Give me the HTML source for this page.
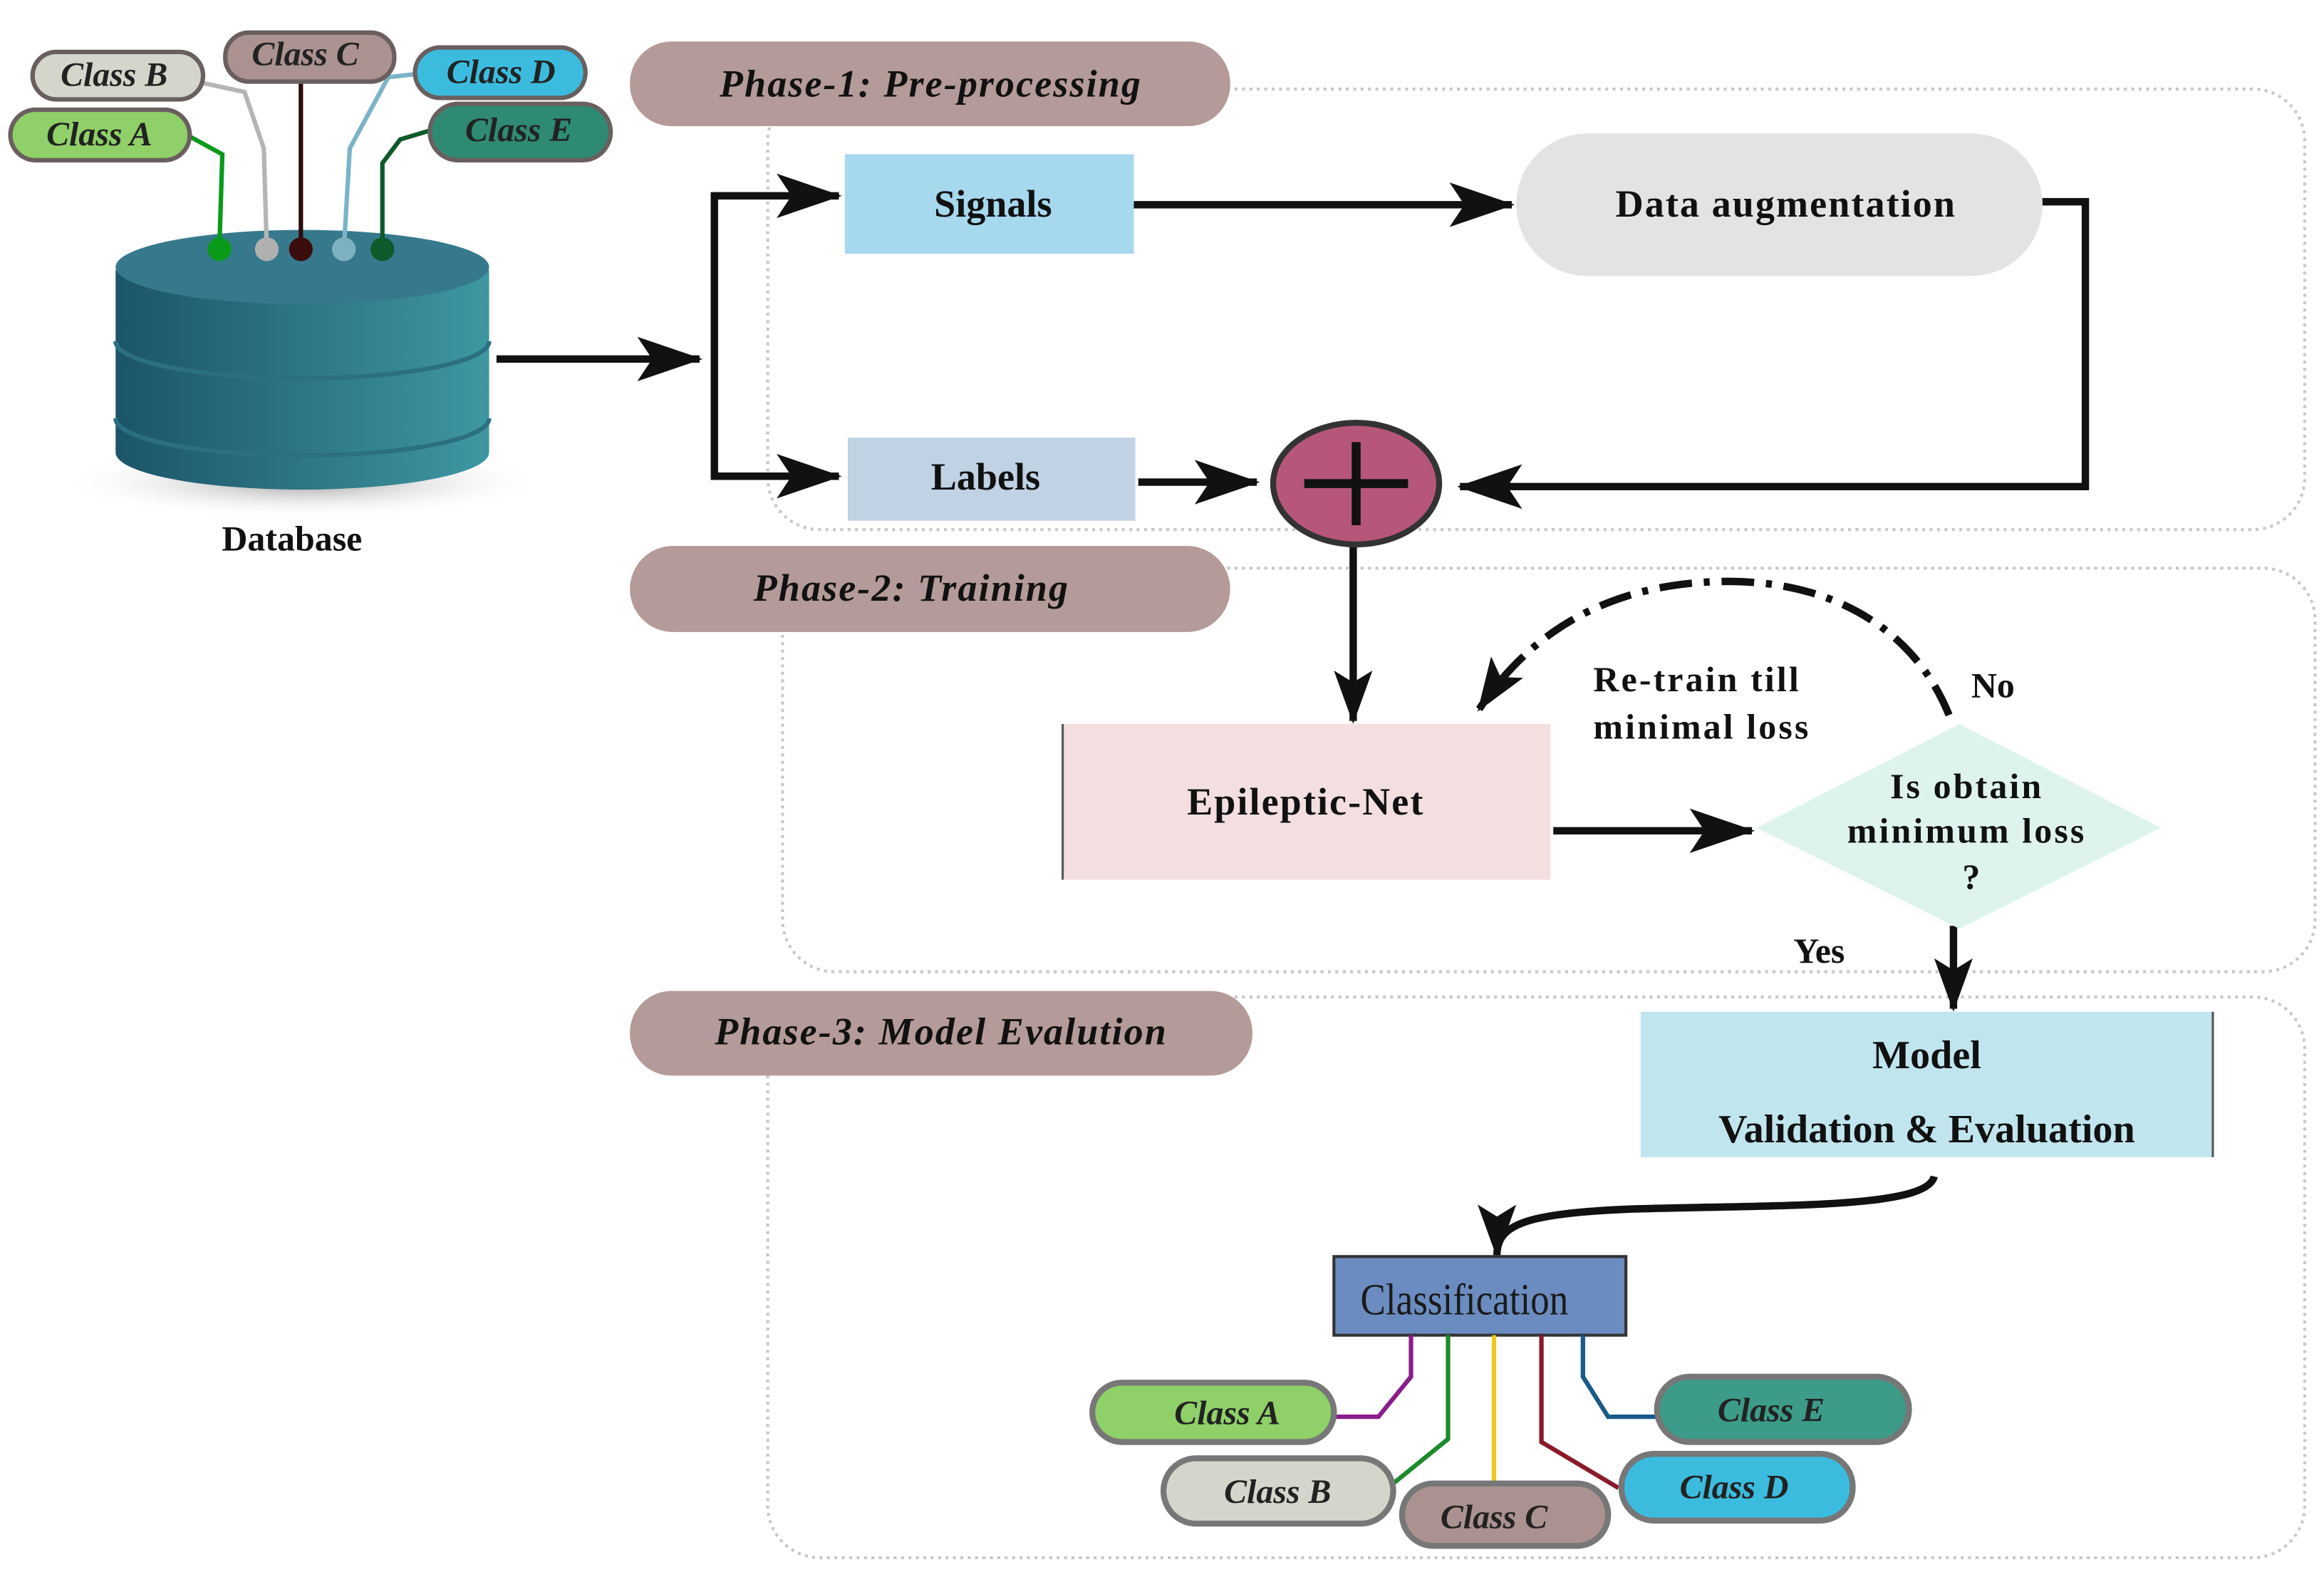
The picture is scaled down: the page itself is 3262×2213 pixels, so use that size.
<!DOCTYPE html>
<html><head><meta charset="utf-8"><style>
html,body{margin:0;padding:0;background:#fff;}
svg{display:block;}
text{font-family:"Liberation Serif",serif;}
.pill{font-weight:bold;font-style:italic;font-size:23px;fill:#222;}
.ph{font-weight:bold;font-style:italic;font-size:26px;fill:#111;letter-spacing:1px;}
.b{font-weight:bold;fill:#111;}
</style></head><body>
<svg width="3262" height="2213" viewBox="0 0 1568 1063" preserveAspectRatio="none" xmlns="http://www.w3.org/2000/svg">
<defs>
<linearGradient id="cyl" x1="0" x2="1" y1="0" y2="0">
<stop offset="0" stop-color="#1c5468"/><stop offset="1" stop-color="#3e97a2"/></linearGradient>
<radialGradient id="sh"><stop offset="0" stop-color="#888" stop-opacity=".8"/><stop offset="1" stop-color="#fff" stop-opacity="0"/></radialGradient>
<marker id="ah" viewBox="0 0 44 30" refX="42" refY="15" markerWidth="44" markerHeight="30" orient="auto" markerUnits="userSpaceOnUse">
<path d="M0,0 L44,15 L0,30 L10,15 Z" fill="#111"/></marker>
<marker id="ah2" viewBox="0 0 36 26" refX="34" refY="13" markerWidth="36" markerHeight="26" orient="auto" markerUnits="userSpaceOnUse">
<path d="M0,0 L36,13 L0,26 L8,13 Z" fill="#111"/></marker>
</defs>
<!-- phase boxes -->
<g fill="none" stroke="#c8c8c8" stroke-width="2" stroke-dasharray="2,3">
<rect x="518" y="60" width="1037" height="297" rx="35"/>
<rect x="528" y="383" width="1034" height="272" rx="35"/>
<rect x="518" y="672" width="1037" height="378" rx="35"/>
</g>
<!-- phase pills -->
<rect x="425" y="28" width="405" height="57" rx="28" fill="#b49a98"/>
<text x="628" y="65" text-anchor="middle" class="ph">Phase-1: Pre-processing</text>
<rect x="425" y="368" width="405" height="58" rx="29" fill="#b49a98"/>
<text x="615" y="405" text-anchor="middle" class="ph">Phase-2: Training</text>
<rect x="425" y="668" width="420" height="57" rx="28" fill="#b49a98"/>
<text x="635" y="704" text-anchor="middle" class="ph">Phase-3: Model Evalution</text>

<!-- database -->
<ellipse cx="204" cy="325" rx="165" ry="25" fill="url(#sh)"/>
<path d="M78,182 L78,305 A126,25 0 0 0 330,305 L330,182 Z" fill="url(#cyl)"/>
<path d="M78,230 A126,25 0 0 0 330,230 M78,282 A126,25 0 0 0 330,282" fill="none" stroke="#2c6f80" stroke-width="3"/>
<ellipse cx="204" cy="180" rx="126" ry="25" fill="#37798c"/>
<g fill="none" stroke-width="3">
<polyline points="128,92 150,104 148,168" stroke="#0a9a1a"/>
<polyline points="137,56 165,62 178,100 180,168" stroke="#b5b5b5"/>
<polyline points="203,55 203,168" stroke="#2a0c0c"/>
<polyline points="280,50 262,52 236,100 232,168" stroke="#7bb4c8"/>
<polyline points="290,88 270,94 258,110 258,168" stroke="#0d5a2a"/>
</g>
<circle cx="148" cy="168" r="8" fill="#0a9a1a"/>
<circle cx="180" cy="168" r="8" fill="#b0b0b0"/>
<circle cx="203" cy="168" r="8" fill="#3a0c0c"/>
<circle cx="232" cy="168" r="8" fill="#7db0c0"/>
<circle cx="258" cy="168" r="8" fill="#0d5a2a"/>
<g stroke="#6a5f5f" stroke-width="3">
<rect x="22" y="35" width="115" height="32" rx="16" fill="#d4d6cc"/>
<rect x="152" y="22" width="114" height="33" rx="16" fill="#ab9290"/>
<rect x="7" y="74" width="121" height="34" rx="17" fill="#8fd068"/>
<rect x="280" y="32" width="115" height="34" rx="17" fill="#3bbcdf"/>
<rect x="290" y="70" width="122" height="38" rx="19" fill="#2e8a73"/>
</g>
<text x="77" y="58" text-anchor="middle" class="pill" font-size="20">Class B</text>
<text x="206" y="44" text-anchor="middle" class="pill" font-size="20">Class C</text>
<text x="67" y="98" text-anchor="middle" class="pill" font-size="20">Class A</text>
<text x="338" y="56" text-anchor="middle" class="pill" font-size="20">Class D</text>
<text x="350" y="95" text-anchor="middle" class="pill" font-size="20">Class E</text>
<text x="197" y="371" text-anchor="middle" class="b" font-size="24">Database</text>

<!-- arrows -->
<g stroke="#111" stroke-width="5" fill="none">
<line x1="335" y1="242" x2="472" y2="242" marker-end="url(#ah)"/>
<polyline points="540,132 482,132 482,321 540,321"/>
<line x1="482" y1="132" x2="566" y2="132" marker-end="url(#ah)"/>
<line x1="482" y1="321" x2="566" y2="321" marker-end="url(#ah)"/>
<line x1="765" y1="138" x2="1020" y2="138" marker-end="url(#ah)"/>
<polyline points="1378,136 1407,136 1407,328 985,328" marker-end="url(#ah)"/>
<line x1="768" y1="325" x2="848" y2="325" marker-end="url(#ah)"/>
<line x1="913" y1="368" x2="913" y2="486" marker-end="url(#ah2)"/>
<line x1="1048" y1="560" x2="1182" y2="560" marker-end="url(#ah)"/>
<line x1="1318" y1="624" x2="1318" y2="680" marker-end="url(#ah2)"/>
<path d="M1305,793 C1300,815 1200,812 1100,815 C1030,818 1010,825 1010,846" marker-end="url(#ah2)"/>
</g>
<rect x="570" y="104" width="195" height="67" fill="#a6d8ee"/>
<text x="670" y="146" text-anchor="middle" class="b" font-size="26">Signals</text>
<rect x="1023" y="90" width="355" height="96" rx="48" fill="#e3e3e6"/>
<text x="1205" y="146" text-anchor="middle" class="b" font-size="26" letter-spacing="1">Data augmentation</text>
<rect x="572" y="295" width="194" height="56" fill="#c0d2e4"/>
<text x="665" y="330" text-anchor="middle" class="b" font-size="26">Labels</text>
<ellipse cx="915" cy="326" rx="56" ry="41" fill="#b6567a" stroke="#333" stroke-width="4"/>
<path d="M880,326 H950 M915,298 V354" stroke="#111" stroke-width="6"/>

<!-- phase 2 -->
<rect x="717" y="488" width="329" height="105" fill="#f3dfe0"/>
<line x1="717" y1="488" x2="717" y2="593" stroke="#555" stroke-width="1.5"/>
<text x="881" y="549" text-anchor="middle" class="b" font-size="26" letter-spacing="1">Epileptic-Net</text>
<polygon points="1185,558 1322,488 1458,558 1322,626" fill="#dff3ee"/>
<text x="1327" y="538" text-anchor="middle" class="b" font-size="24" letter-spacing="1.5">Is obtain</text>
<text x="1327" y="568" text-anchor="middle" class="b" font-size="24" letter-spacing="1.5">minimum loss</text>
<text x="1330" y="599" text-anchor="middle" class="b" font-size="24">?</text>
<path d="M1315,482 C1290,420 1230,390 1160,392 C1080,394 1030,430 998,478" fill="none" stroke="#111" stroke-width="5" stroke-dasharray="22,8,4,8" marker-end="url(#ah2)"/>
<text x="1075" y="466" class="b" font-size="24" letter-spacing="1.5">Re-train till</text>
<text x="1075" y="498" class="b" font-size="24" letter-spacing="1.5">minimal loss</text>
<text x="1330" y="470" class="b" font-size="24">No</text>
<text x="1210" y="649" class="b" font-size="24">Yes</text>

<!-- phase 3 -->
<rect x="1107" y="682" width="386" height="98" fill="#c1e5ee"/>
<line x1="1493" y1="682" x2="1493" y2="780" stroke="#555" stroke-width="1.5"/>
<text x="1300" y="720" text-anchor="middle" class="b" font-size="27">Model</text>
<text x="1300" y="770" text-anchor="middle" class="b" font-size="27">Validation &amp; Evaluation</text>
<rect x="900" y="847" width="197" height="53" fill="#6b8cc0" stroke="#333" stroke-width="2"/>
<text x="988" y="886" text-anchor="middle" font-size="30" fill="#1a1a1a" transform="translate(988,0) scale(0.85,1) translate(-988,0)">Classification</text>
<g fill="none" stroke-width="3">
<polyline points="952,900 952,928 930,955 900,955" stroke="#8a1d8a"/>
<polyline points="977,900 977,970 940,1000" stroke="#1c8a2a"/>
<polyline points="1008,900 1008,1000" stroke="#e8c81a"/>
<polyline points="1040,900 1040,972 1092,1003" stroke="#8a1a2a"/>
<polyline points="1068,900 1068,928 1085,955 1118,955" stroke="#1a5a8a"/>
</g>
<g stroke="#777" stroke-width="4">
<rect x="737" y="932" width="163" height="40" rx="20" fill="#8fd068"/>
<rect x="785" y="983" width="155" height="44" rx="22" fill="#d4d6cc"/>
<rect x="946" y="1000" width="139" height="42" rx="21" fill="#ab9290"/>
<rect x="1094" y="980" width="156" height="45" rx="22" fill="#3bbcdf"/>
<rect x="1118" y="928" width="170" height="44" rx="22" fill="#3c9b89"/>
</g>
<text x="828" y="960" text-anchor="middle" class="pill">Class A</text>
<text x="862" y="1013" text-anchor="middle" class="pill">Class B</text>
<text x="1008" y="1030" text-anchor="middle" class="pill">Class C</text>
<text x="1170" y="1010" text-anchor="middle" class="pill">Class D</text>
<text x="1195" y="958" text-anchor="middle" class="pill">Class E</text>
</svg>
</body></html>
